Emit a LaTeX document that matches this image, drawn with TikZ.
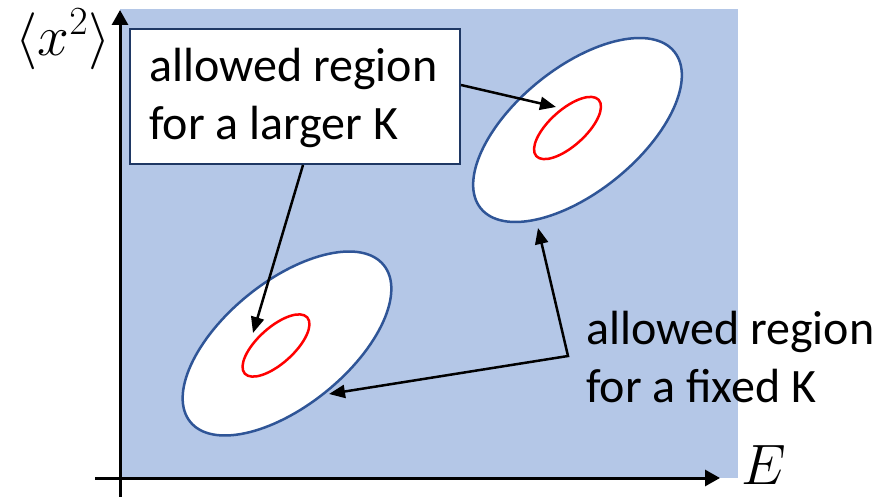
\RequirePackage{fix-cm}
\documentclass[tikz,border=0pt]{standalone}
\usepackage{fontspec}
\setmainfont{Carlito}
\usetikzlibrary{arrows.meta,shapes.geometric,calc}
\definecolor{regionfill}{HTML}{B4C7E7}
\definecolor{rimblue}{HTML}{2F5597}
\definecolor{boxnavy}{HTML}{1F3864}
\tikzset{
  axisline/.style={line width=3pt, -{Triangle[length=15pt,width=16pt]}},
  pointer/.style={line width=2.5pt, -{Triangle[length=16pt,width=13pt]}},
  twopointer/.style={line width=2.5pt, {Triangle[length=16pt,width=13pt]}-{Triangle[length=16pt,width=13pt]}},
  outerregion/.style={ellipse, draw=rimblue, fill=white, line width=2.5pt,
    minimum width=249pt, minimum height=124pt, inner sep=0pt, rotate=39},
  innerregion/.style={ellipse, draw=red, line width=2.5pt,
    minimum width=84pt, minimum height=36pt, inner sep=0pt, rotate=42},
  txt/.style={font=\fontsize{48}{58}\selectfont, align=left, inner sep=0pt, anchor=base west},
  mathlbl/.style={font=\fontsize{57}{68}\selectfont, inner sep=0pt}
}
\begin{document}
\begin{tikzpicture}[x=1pt,y=-1pt]
  \useasboundingbox (0,0) rectangle (889,497);
  % shaded plane
  \fill[regionfill] (120,9) rectangle (738,478);

  % axes
  \coordinate (yfoot) at (120,497);
  \coordinate (ytop) at (120,10);
  \coordinate (xfoot) at (95,478);
  \coordinate (xtip) at (720,478);
  \draw[axisline] (yfoot) -- (ytop);
  \draw[axisline] (xfoot) -- (xtip);
  \node[mathlbl] (ylab) at (63,39) {$\langle x^2\rangle$};
  \node[mathlbl] (xlab) at (764,465) {$E$};

  % allowed regions
  \node[outerregion] (upperfixed) at (577.5,130) {};
  \node[outerregion] (lowerfixed) at (287,343.5) {};
  \node[innerregion] (upperlarge) at (567.5,128) {};
  \node[innerregion] (lowerlarge) at (276,345.5) {};

  % label box for the larger K
  \node[draw=boxnavy, fill=white, line width=2pt, minimum width=330pt,
        minimum height=135pt, inner sep=0pt] (largerbox) at (295,96.5) {};
  \node[txt] (largerlbl) at (149,140) {allowed region\\for a larger K};

  % label for the fixed K
  \node[txt] (fixedlbl) at (586,402) {allowed region\\for a fixed K};

  % pointers
  \coordinate (uptip) at (556,107);
  \coordinate (lowtip) at (253,333);
  \draw[pointer] ([yshift=11.5pt]largerbox.east) -- (uptip);
  \draw[pointer] ([xshift=8pt]largerbox.south) -- (lowtip);

  \coordinate (bend) at (568,356);
  \coordinate (upfixedtip) at (538,228);
  \coordinate (lowfixedtip) at (329,394);
  \draw[twopointer] (upfixedtip) -- (bend) -- (lowfixedtip);
\end{tikzpicture}
\end{document}
